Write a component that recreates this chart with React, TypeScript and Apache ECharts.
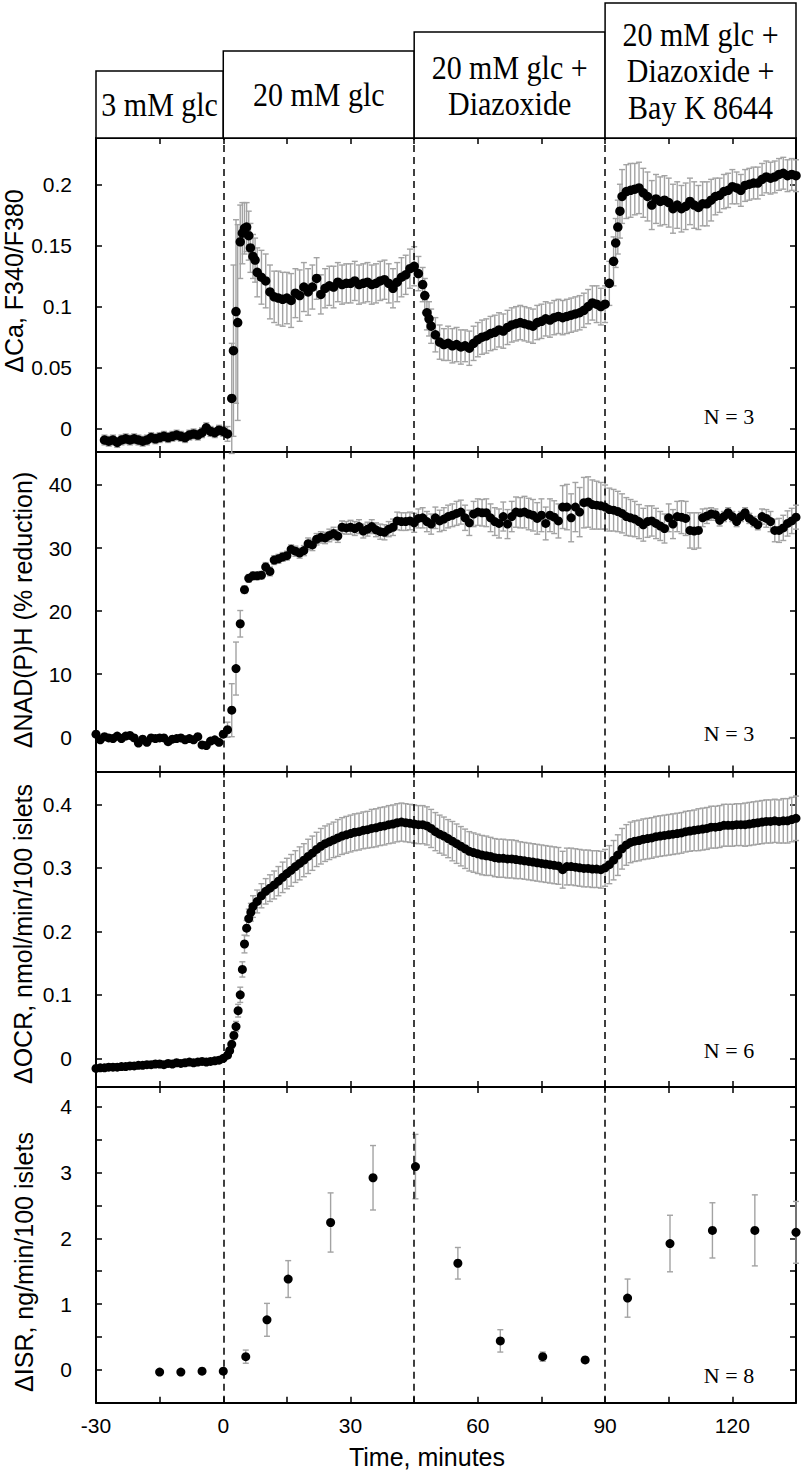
import React, { useEffect, useRef } from "react";
import * as echarts from "echarts";

// ---------- shared time axis ----------
const X_MIN = -30;
const X_MAX = 135;
const xTickValues = [-15, 0, 15, 30, 45, 60, 75, 90, 105, 120];
const xLabelValues = [-30, 0, 30, 60, 90, 120];
const switchTimes = [0, 45, 90];

// ---------- panel 1: ΔCa (1-min sampling from -28 min) ----------
const caStart = -28;
const caMean = [
  -0.009, -0.010, -0.009, -0.011, -0.009, -0.008, -0.009, -0.008, -0.009, -0.010,
  -0.009, -0.007, -0.008, -0.007, -0.006, -0.007, -0.006, -0.005, -0.006, -0.007,
  -0.005, -0.004, -0.005, -0.003, 0.001, -0.002, -0.003, -0.001,
  -0.002, -0.004, 0.025, 0.096, 0.153, 0.164, 0.158, 0.141, 0.128, 0.124,
  0.121, 0.112, 0.108, 0.107, 0.106, 0.107, 0.105, 0.111, 0.109, 0.116,
  0.112, 0.116, 0.123, 0.110, 0.115, 0.117, 0.116, 0.120, 0.118, 0.119,
  0.119, 0.121, 0.118, 0.119, 0.120, 0.118, 0.119, 0.121, 0.122, 0.119,
  0.115, 0.120, 0.124, 0.126, 0.131, 0.133, 0.127, 0.118, 0.095, 0.084,
  0.077, 0.071, 0.069, 0.070, 0.068, 0.069, 0.067, 0.068, 0.066, 0.070,
  0.073, 0.075, 0.076, 0.078, 0.079, 0.081, 0.080, 0.083, 0.085, 0.086,
  0.087, 0.086, 0.085, 0.084, 0.087, 0.088, 0.090, 0.089, 0.091, 0.092,
  0.091, 0.092, 0.093, 0.094, 0.095, 0.097, 0.100, 0.103, 0.102, 0.100,
  0.102, 0.119, 0.137, 0.165, 0.190, 0.194, 0.195, 0.196, 0.197, 0.193,
  0.190, 0.183, 0.188, 0.186, 0.187, 0.185, 0.180, 0.183, 0.180, 0.182,
  0.186, 0.183, 0.181, 0.184, 0.184, 0.187, 0.190, 0.191, 0.194, 0.195,
  0.198, 0.197, 0.195, 0.199, 0.200, 0.201, 0.201, 0.204, 0.206, 0.205,
  0.206, 0.208, 0.209, 0.207, 0.208, 0.207,
];
const caErr = [
  0.004, 0.004, 0.004, 0.004, 0.004, 0.004, 0.004, 0.004, 0.004, 0.004,
  0.004, 0.004, 0.004, 0.004, 0.004, 0.004, 0.004, 0.004, 0.004, 0.004,
  0.004, 0.004, 0.004, 0.004, 0.004, 0.004, 0.004, 0.004,
  0.004, 0.006, 0.045, 0.075, 0.030, 0.021, 0.020, 0.018, 0.020, 0.022,
  0.022, 0.022, 0.021, 0.022, 0.022, 0.021, 0.022, 0.020, 0.021, 0.020,
  0.019, 0.018, 0.017, 0.016, 0.016, 0.016, 0.017, 0.016, 0.016, 0.016,
  0.016, 0.016, 0.016, 0.016, 0.016, 0.016, 0.016, 0.016, 0.016, 0.016,
  0.016, 0.016, 0.016, 0.016, 0.016, 0.016, 0.014, 0.014, 0.014, 0.014,
  0.014, 0.014, 0.013, 0.014, 0.014, 0.014, 0.014, 0.013, 0.014, 0.014,
  0.014, 0.014, 0.014, 0.014, 0.014, 0.014, 0.014, 0.014, 0.014, 0.014,
  0.014, 0.014, 0.014, 0.014, 0.014, 0.014, 0.014, 0.014, 0.014, 0.014,
  0.014, 0.014, 0.014, 0.014, 0.014, 0.014, 0.014, 0.014, 0.015, 0.015,
  0.015, 0.018, 0.020, 0.022, 0.022, 0.022, 0.022, 0.021, 0.021, 0.020,
  0.020, 0.020, 0.020, 0.020, 0.020, 0.020, 0.020, 0.019, 0.019, 0.019,
  0.019, 0.019, 0.018, 0.018, 0.018, 0.017, 0.015, 0.014, 0.014, 0.014,
  0.014, 0.013, 0.013, 0.013, 0.013, 0.013, 0.013, 0.013, 0.013, 0.013,
  0.013, 0.013, 0.013, 0.013, 0.013, 0.013,
];
const caExtraTime = [2.4, 3.4, 4.5, 5.5, 6.4, 7.5, 47.5, 48.5, 92.5, 93.5];
const caExtraMean = [0.064, 0.087, 0.160, 0.165, 0.148, 0.138, 0.109, 0.090, 0.152, 0.178];
const caExtraErr = [0.070, 0.080, 0.025, 0.020, 0.020, 0.018, 0.014, 0.014, 0.020, 0.022];

// ---------- panel 2: ΔNAD(P)H (1-min sampling from -30 min) ----------
const nadStart = -30;
const nadMean = [
  0.5, -0.4, 0.1, -0.1, -0.2, 0.2, -0.2, 0.2, 0.3, -0.1,
  -0.9, -0.3, -0.8, -0.1, -0.2, -0.1, -0.1, -0.7, -0.3, -0.2,
  -0.1, -0.4, -0.2, -0.4, 0.1, -1.2, -1.3, -0.6, -0.4, -0.8,
  0.5, 1.2, 4.3, 10.9, 18.0, 23.4, 25.2, 25.6, 25.6, 25.7,
  27.0, 26.3, 28.1, 28.3, 28.6, 28.8, 29.8, 29.5, 29.2, 29.6,
  30.7, 30.5, 31.4, 31.7, 31.6, 32.0, 32.3, 31.9, 33.3, 33.2,
  33.3, 33.1, 33.4, 32.7, 33.0, 33.4, 32.9, 32.6, 32.5, 33.0,
  33.3, 34.3, 34.2, 34.2, 34.3, 34.0, 34.7, 34.8, 34.2, 33.8,
  34.8, 34.3, 34.6, 35.0, 35.2, 35.5, 35.7, 34.8, 34.0, 35.4,
  35.7, 35.6, 35.6, 34.8, 34.2, 33.9, 35.0, 33.8, 35.0, 35.7,
  35.6, 35.7, 35.4, 35.2, 34.7, 35.2, 33.9, 35.2, 34.9, 34.3,
  36.5, 36.5, 34.8, 36.5, 35.7, 37.2, 37.3, 36.9, 36.8, 36.7,
  36.5, 36.1, 36.0, 35.8, 35.5, 35.0, 34.8, 34.6, 34.2, 33.7,
  34.2, 34.3, 33.9, 33.5, 33.1, 34.8, 33.8, 35.0, 34.9, 34.7,
  32.8, 32.7, 32.8, 34.8, 35.1, 35.4, 35.3, 34.4, 35.0, 35.6,
  35.0, 34.2, 35.0, 35.6, 34.7, 34.2, 33.7, 35.0, 34.7, 34.2,
  32.8, 32.8, 33.2, 33.9, 34.3, 34.9,
];
const nadErr = [
  0.3, 0.3, 0.3, 0.3, 0.3, 0.3, 0.3, 0.3, 0.3, 0.3,
  0.3, 0.3, 0.3, 0.3, 0.3, 0.3, 0.3, 0.3, 0.3, 0.3,
  0.3, 0.3, 0.3, 0.3, 0.3, 0.3, 0.3, 0.3, 0.3, 0.3,
  0.5, 1.2, 4.2, 4.2, 2.1, 0.6, 0.6, 0.6, 0.6, 0.6,
  0.7, 0.7, 0.7, 0.7, 0.7, 0.7, 0.7, 0.8, 0.8, 0.8,
  0.9, 0.9, 0.9, 0.9, 0.9, 1.0, 1.0, 1.0, 1.0, 1.0,
  1.1, 1.1, 1.1, 1.1, 1.1, 1.1, 1.1, 1.2, 1.2, 1.2,
  1.3, 1.4, 1.4, 1.4, 1.4, 1.5, 1.5, 1.6, 1.6, 1.6,
  1.7, 1.7, 1.8, 1.8, 1.8, 1.9, 1.9, 2.0, 2.0, 2.0,
  2.1, 2.1, 2.2, 2.2, 2.2, 2.3, 2.3, 2.3, 2.4, 2.4,
  2.4, 2.5, 2.5, 2.5, 2.5, 2.6, 2.6, 2.6, 2.6, 2.7,
  3.4, 3.6, 3.8, 3.9, 3.9, 4.0, 4.0, 3.9, 3.8, 3.7,
  3.5, 3.4, 3.3, 3.2, 3.1, 3.0, 2.9, 2.8, 2.7, 2.6,
  2.5, 2.4, 2.4, 2.3, 2.3, 2.2, 2.3, 2.4, 2.6, 2.7,
  2.8, 2.9, 2.8, 1.4, 1.2, 1.0, 0.9, 0.9, 0.8, 0.8,
  0.8, 0.8, 0.8, 0.8, 0.8, 0.8, 0.8, 1.2, 1.4, 1.6,
  1.8, 1.9, 2.0, 2.0, 2.0, 1.9,
];

// ---------- panel 3: ΔOCR (1-min sampling from -30 min) ----------
const ocrStart = -30;
const ocrMean = [
  -0.016, -0.015, -0.015, -0.014, -0.014, -0.014, -0.013, -0.013, -0.012, -0.012,
  -0.011, -0.011, -0.010, -0.010, -0.009, -0.009, -0.010, -0.008, -0.009, -0.007,
  -0.008, -0.007, -0.006, -0.007, -0.006, -0.005, -0.006, -0.005, -0.004, -0.003,
  0.000, 0.005, 0.022, 0.050, 0.100, 0.180, 0.220, 0.239, 0.247, 0.256,
  0.263, 0.268, 0.273, 0.279, 0.285, 0.291, 0.296, 0.302, 0.307, 0.312,
  0.318, 0.323, 0.329, 0.334, 0.338, 0.341, 0.344, 0.347, 0.350, 0.352,
  0.354, 0.356, 0.357, 0.359, 0.360, 0.362, 0.363, 0.365, 0.366, 0.368,
  0.369, 0.371, 0.372, 0.371, 0.370, 0.369, 0.368, 0.368, 0.366, 0.362,
  0.357, 0.353, 0.350, 0.346, 0.342, 0.338, 0.334, 0.330, 0.326, 0.324,
  0.322, 0.320, 0.319, 0.318, 0.316, 0.315, 0.315, 0.314, 0.314, 0.313,
  0.312, 0.311, 0.310, 0.309, 0.308, 0.307, 0.306, 0.305, 0.304, 0.303,
  0.297, 0.302, 0.302, 0.301, 0.300, 0.299, 0.299, 0.298, 0.298, 0.297,
  0.300, 0.305, 0.312, 0.320, 0.330, 0.336, 0.340, 0.342, 0.343, 0.345,
  0.346, 0.347, 0.349, 0.350, 0.351, 0.352, 0.353, 0.354, 0.355, 0.357,
  0.358, 0.359, 0.360, 0.361, 0.362, 0.364, 0.364, 0.365, 0.367, 0.367,
  0.367, 0.368, 0.368, 0.368, 0.369, 0.370, 0.371, 0.372, 0.373, 0.373,
  0.374, 0.373, 0.374, 0.374, 0.376, 0.378,
];
const ocrErr = [
  0.003, 0.003, 0.003, 0.003, 0.003, 0.003, 0.003, 0.003, 0.003, 0.003,
  0.003, 0.003, 0.003, 0.003, 0.003, 0.003, 0.003, 0.003, 0.003, 0.003,
  0.003, 0.003, 0.003, 0.003, 0.003, 0.003, 0.003, 0.003, 0.003, 0.003,
  0.003, 0.004, 0.006, 0.008, 0.012, 0.014, 0.015, 0.017, 0.018, 0.019,
  0.020, 0.021, 0.022, 0.023, 0.024, 0.024, 0.025, 0.025, 0.026, 0.026,
  0.027, 0.027, 0.027, 0.028, 0.028, 0.028, 0.028, 0.029, 0.029, 0.029,
  0.029, 0.029, 0.029, 0.029, 0.029, 0.030, 0.030, 0.030, 0.030, 0.030,
  0.030, 0.030, 0.030, 0.030, 0.030, 0.030, 0.030, 0.030, 0.030, 0.030,
  0.030, 0.030, 0.030, 0.030, 0.031, 0.031, 0.031, 0.031, 0.031, 0.031,
  0.031, 0.031, 0.031, 0.030, 0.030, 0.030, 0.030, 0.030, 0.030, 0.030,
  0.029, 0.029, 0.029, 0.029, 0.029, 0.029, 0.029, 0.029, 0.029, 0.029,
  0.029, 0.029, 0.029, 0.029, 0.029, 0.029, 0.029, 0.029, 0.029, 0.029,
  0.029, 0.030, 0.031, 0.032, 0.032, 0.032, 0.032, 0.032, 0.032, 0.032,
  0.032, 0.032, 0.032, 0.032, 0.032, 0.032, 0.032, 0.032, 0.032, 0.032,
  0.032, 0.032, 0.033, 0.033, 0.033, 0.033, 0.033, 0.033, 0.033, 0.033,
  0.033, 0.033, 0.033, 0.034, 0.034, 0.034, 0.034, 0.034, 0.034, 0.034,
  0.034, 0.034, 0.035, 0.035, 0.035, 0.035,
];
const ocrExtraTime = [1.5, 2.5, 3.5, 4.5, 5.5, 6.5];
const ocrExtraMean = [0.012, 0.036, 0.075, 0.140, 0.205, 0.230];
const ocrExtraErr = [0.004, 0.006, 0.010, 0.012, 0.012, 0.014];

// ---------- panel 4: ΔISR (fractions) ----------
const isrTime = [-15, -10, -5, 0, 5.3, 10.3, 15.3, 25.3, 35.3, 45.3, 55.3, 65.3, 75.3, 85.3, 95.3, 105.3, 115.3, 125.3, 135];
const isrMean = [-0.035, -0.035, -0.02, -0.02, 0.2, 0.76, 1.38, 2.24, 2.92, 3.09, 1.62, 0.44, 0.2, 0.15, 1.09, 1.92, 2.12, 2.12, 2.09];
const isrErr = [0.02, 0.02, 0.02, 0.02, 0.1, 0.25, 0.28, 0.45, 0.49, 0.49, 0.24, 0.17, 0.07, 0.03, 0.29, 0.43, 0.42, 0.54, 0.47];

// ---------- labels ----------
const yNames = ["ΔCa, F340/F380", "ΔNAD(P)H (% reduction)", "ΔOCR, nmol/min/100 islets", "ΔISR, ng/min/100 islets"];
const nLabels = ["N = 3", "N = 3", "N = 6", "N = 8"];
const conditionLabels = ["3 mM glc", "20 mM glc", "20 mM glc +\nDiazoxide", "20 mM glc +\nDiazoxide +\nBay K 8644"];
const caTicks = [0, 0.05, 0.1, 0.15, 0.2];
const nadTicks = [0, 10, 20, 30, 40];
const ocrTicks = [0, 0.1, 0.2, 0.3, 0.4];
const isrTicks = [0, 0.5, 1, 1.5, 2, 2.5, 3, 3.5, 4];
const isrLabels = [0, 1, 2, 3, 4];

const SANS = '"Liberation Sans", Arial, Helvetica, sans-serif';
const SERIF = '"Liberation Serif", "Times New Roman", serif';

type Row = [number, number, number, number];

function regularRows(start: number, mean: number[], err: number[]): Row[] {
  return mean.map((m, i) => [start + i, m, m - err[i], m + err[i]] as Row);
}
function listRows(time: number[], mean: number[], err: number[]): Row[] {
  return mean.map((m, i) => [time[i], m, m - err[i], m + err[i]] as Row);
}

const GRID_LEFT = 96;
const GRID_WIDTH = 700;
const panels = [
  { top: 138, height: 314, min: -0.0188, max: 0.2378, ticks: caTicks, labels: caTicks, size: 9.5 },
  { top: 452, height: 319.5, min: -5.42, max: 45.23, ticks: nadTicks, labels: nadTicks, size: 9 },
  { top: 771.5, height: 315.5, min: -0.0452, max: 0.4517, ticks: ocrTicks, labels: ocrTicks, size: 9 },
  { top: 1087, height: 315.7, min: -0.5, max: 4.3, ticks: isrTicks, labels: isrLabels, size: 9 },
];

const errorItem = (_params: any, api: any) => {
  const x = api.value(0);
  const lo = api.coord([x, api.value(2)]);
  const hi = api.coord([x, api.value(3)]);
  const w = 3;
  const style = { stroke: "#a3a3a3", lineWidth: 1.4 };
  return {
    type: "group",
    children: [
      { type: "line", shape: { x1: lo[0], y1: lo[1], x2: hi[0], y2: hi[1] }, style },
      { type: "line", shape: { x1: lo[0] - w, y1: lo[1], x2: lo[0] + w, y2: lo[1] }, style },
      { type: "line", shape: { x1: hi[0] - w, y1: hi[1], x2: hi[0] + w, y2: hi[1] }, style },
    ],
  };
};

export default function App() {
  const ref = useRef<HTMLDivElement>(null);

  useEffect(() => {
    document.body.style.margin = "0";
    if (!ref.current) return;
    const chart = echarts.init(ref.current, undefined, { renderer: "svg" });

    const panelRows: Row[][] = [
      [...regularRows(caStart, caMean, caErr), ...listRows(caExtraTime, caExtraMean, caExtraErr)],
      regularRows(nadStart, nadMean, nadErr),
      [...regularRows(ocrStart, ocrMean, ocrErr), ...listRows(ocrExtraTime, ocrExtraMean, ocrExtraErr)],
      listRows(isrTime, isrMean, isrErr),
    ];

    const axisLine = { show: true, onZero: false, lineStyle: { color: "#000", width: 2 } };
    const tickStyle = { color: "#000", width: 1.5 };

    const grid: any[] = [];
    const xAxis: any[] = [];
    const yAxis: any[] = [];
    const series: any[] = [];

    panels.forEach((p, i) => {
      grid.push({ left: GRID_LEFT, top: p.top, width: GRID_WIDTH, height: p.height, outerBoundsMode: "none" });
      ["bottom", "top"].forEach((pos) => {
        xAxis.push({
          gridIndex: i,
          type: "value",
          position: pos,
          min: X_MIN,
          max: X_MAX,
          axisLine,
          splitLine: { show: false },
          axisTick: { show: true, inside: true, length: 6, lineStyle: tickStyle, customValues: xTickValues },
          axisLabel: {
            show: pos === "bottom" && i === 3,
            customValues: xLabelValues,
            fontSize: 21,
            fontFamily: SANS,
            color: "#000",
            margin: 12,
          },
        });
      });
      ["left", "right"].forEach((pos) => {
        yAxis.push({
          gridIndex: i,
          type: "value",
          position: pos,
          min: p.min,
          max: p.max,
          axisLine,
          splitLine: { show: false },
          axisTick: { show: true, inside: true, length: 6, lineStyle: tickStyle, customValues: p.ticks },
          axisLabel: {
            show: pos === "left",
            customValues: p.labels,
            fontSize: 21,
            fontFamily: SANS,
            color: "#000",
            margin: 24,
          },
        });
      });
      const rows = panelRows[i];
      series.push({
        type: "custom",
        xAxisIndex: 2 * i,
        yAxisIndex: 2 * i,
        renderItem: errorItem,
        encode: { x: 0, y: [2, 3] },
        data: rows,
        z: 1,
        clip: false,
        silent: true,
        markLine: {
          silent: true,
          symbol: ["none", "none"],
          label: { show: false },
          lineStyle: { color: "#000", type: [7, 5], width: 1.5, opacity: 1 },
          emphasis: { disabled: true },
          data: switchTimes.map((t) => ({ xAxis: t })),
        },
      });
      series.push({
        type: "scatter",
        xAxisIndex: 2 * i,
        yAxisIndex: 2 * i,
        data: rows.map((r) => [r[0], r[1]]),
        symbol: "circle",
        symbolSize: p.size,
        itemStyle: { color: "#000", opacity: 1 },
        z: 3,
        clip: false,
        silent: true,
      });
    });

    // condition boxes above the top panel
    const xPix = (t: number) => GRID_LEFT + ((t - X_MIN) / (X_MAX - X_MIN)) * GRID_WIDTH;
    const boxEdges = [X_MIN, 0, 45, 90, X_MAX];
    const boxTops = [71, 51, 32, 3];
    const boxBottom = 138;
    const graphic: any[] = [];
    conditionLabels.forEach((lab, i) => {
      const x0 = xPix(boxEdges[i]);
      const x1 = xPix(boxEdges[i + 1]);
      graphic.push({
        type: "rect",
        shape: { x: x0, y: boxTops[i], width: x1 - x0, height: boxBottom - boxTops[i] },
        style: { fill: "#fff", stroke: "#000", lineWidth: 1.5 },
        z: 10,
      });
      graphic.push({
        type: "text",
        x: (x0 + x1) / 2,
        y: (boxTops[i] + boxBottom) / 2 + 1,
        scaleY: 1.1,
        style: {
          text: lab,
          fontSize: 30,
          fontFamily: SERIF,
          lineHeight: 33,
          fill: "#000",
          textAlign: "center",
          textVerticalAlign: "middle",
          align: "center",
          verticalAlign: "middle",
        },
        z: 11,
      });
    });

    const yNameX = [14, 23, 23, 24];
    panels.forEach((p, i) => {
      graphic.push({
        type: "text",
        x: yNameX[i],
        y: [281, 610, 934, 1262][i],
        rotation: Math.PI / 2,
        style: {
          text: yNames[i],
          fontSize: 25,
          fontFamily: SANS,
          fill: "#000",
          textAlign: "center",
          textVerticalAlign: "middle",
          align: "center",
          verticalAlign: "middle",
        },
      });
      graphic.push({
        type: "text",
        x: 729,
        y: [416, 733, 1050, 1375][i],
        style: {
          text: nLabels[i],
          fontSize: 22,
          fontFamily: SERIF,
          fill: "#000",
          textAlign: "center",
          textVerticalAlign: "middle",
          align: "center",
          verticalAlign: "middle",
        },
      });
    });
    graphic.push({
      type: "text",
      x: 427,
      y: 1457,
      style: {
        text: "Time, minutes",
        fontSize: 25,
        fontFamily: SANS,
        fill: "#000",
        textAlign: "center",
        textVerticalAlign: "middle",
        align: "center",
        verticalAlign: "middle",
      },
    });

    chart.setOption({
      animation: false,
      backgroundColor: "#fff",
      grid,
      xAxis,
      yAxis,
      series,
      graphic,
    });

    return () => chart.dispose();
  }, []);

  return <div ref={ref} style={{ width: 802, height: 1471 }} />;
}
